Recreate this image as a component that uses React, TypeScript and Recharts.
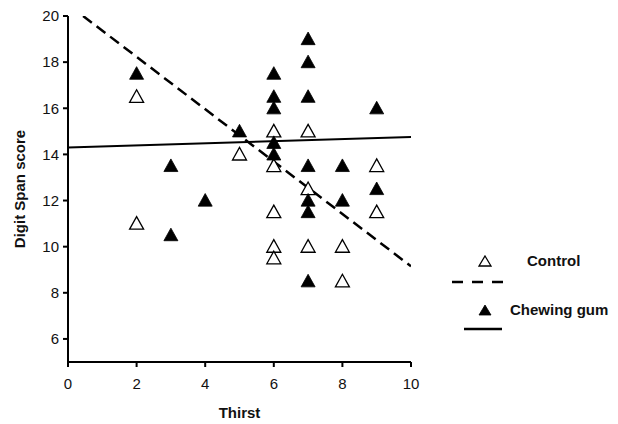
import {
  ComposedChart,
  Line,
  Scatter,
  XAxis,
  YAxis,
  Label,
} from "recharts";

interface Pt {
  x: number;
  y: number;
}

// Thirst rating vs digit span score
const controlPoints: Pt[] = [
  { x: 2, y: 16.5 }, { x: 2, y: 11 }, { x: 5, y: 14 },
  { x: 6, y: 15 }, { x: 6, y: 13.5 }, { x: 6, y: 11.5 }, { x: 6, y: 10 }, { x: 6, y: 9.5 },
  { x: 7, y: 15 }, { x: 7, y: 12.5 }, { x: 7, y: 10 },
  { x: 8, y: 10 }, { x: 8, y: 8.5 },
  { x: 9, y: 13.5 }, { x: 9, y: 11.5 },
];

const gumPoints: Pt[] = [
  { x: 2, y: 17.5 }, { x: 3, y: 13.5 }, { x: 3, y: 10.5 }, { x: 4, y: 12 }, { x: 5, y: 15 },
  { x: 6, y: 17.5 }, { x: 6, y: 16.5 }, { x: 6, y: 16 }, { x: 6, y: 14.5 }, { x: 6, y: 14 },
  { x: 7, y: 19 }, { x: 7, y: 18 }, { x: 7, y: 16.5 }, { x: 7, y: 13.5 }, { x: 7, y: 12 },
  { x: 7, y: 11.5 }, { x: 7, y: 8.5 },
  { x: 8, y: 13.5 }, { x: 8, y: 12 },
  { x: 9, y: 16 }, { x: 9, y: 12.5 },
];

// fitted regression lines (end points)
const controlFit: Pt[] = [
  { x: 0.44, y: 20 },
  { x: 10, y: 9.15 },
];
const gumFit: Pt[] = [
  { x: 0, y: 14.3 },
  { x: 10, y: 14.75 },
];

const xTicks = [0, 2, 4, 6, 8, 10];
const yTicks = [6, 8, 10, 12, 14, 16, 18, 20];

const FONT = "'Liberation Sans', Arial, sans-serif";

function Triangle(props: any) {
  const { cx, cy, filled } = props;
  if (cx == null || cy == null) return null;
  const s = 7;
  const d = `M${cx},${cy - s} L${cx + s},${cy + s * 0.8} L${cx - s},${cy + s * 0.8} Z`;
  return (
    <path
      d={d}
      fill={filled ? "#000" : "#fff"}
      stroke="#000"
      strokeWidth={filled ? 0.8 : 1.3}
    />
  );
}

function LegendTriangle({ filled }: { filled: boolean }) {
  return (
    <svg width={14} height={12} style={{ display: "block" }}>
      <path
        d="M7,1 L13,11 L1,11 Z"
        fill={filled ? "#000" : "#fff"}
        stroke="#000"
        strokeWidth={filled ? 0.8 : 1.3}
      />
    </svg>
  );
}

export default function App() {
  return (
    <div
      style={{
        position: "absolute",
        left: 0,
        top: 0,
        width: 618,
        height: 424,
        background: "#fff",
        fontFamily: FONT,
      }}
    >
      <ComposedChart
        width={618}
        height={424}
        margin={{ top: 16, right: 207, bottom: 12, left: 28 }}
      >
        <XAxis
          type="number"
          dataKey="x"
          domain={[0, 10]}
          ticks={xTicks}
          allowDataOverflow
          stroke="#000"
          strokeWidth={2}
          tickSize={5}
          tickMargin={11}
          tick={{ fill: "#111", fontSize: 15, fontFamily: FONT }}
          height={50}
        >
          <Label
            value="Thirst"
            position="insideBottom"
            offset={-6}
            style={{ fill: "#111", fontSize: 15, fontWeight: 700, fontFamily: FONT }}
          />
        </XAxis>
        <YAxis
          type="number"
          dataKey="y"
          domain={[5, 20]}
          ticks={yTicks}
          allowDataOverflow
          stroke="#000"
          strokeWidth={2}
          tickSize={5}
          tickMargin={4}
          tick={{ fill: "#111", fontSize: 15, fontFamily: FONT }}
          width={40}
        >
          <Label
            value="Digit Span score"
            angle={-90}
            position="insideLeft"
            offset={-8}
            style={{
              fill: "#111",
              fontSize: 15,
              fontWeight: 700,
              fontFamily: FONT,
              textAnchor: "middle",
            }}
          />
        </YAxis>
        <Line
          data={controlFit}
          dataKey="y"
          type="linear"
          stroke="#000"
          strokeWidth={2.5}
          strokeDasharray="11 6"
          dot={false}
          activeDot={false}
          isAnimationActive={false}
        />
        <Line
          data={gumFit}
          dataKey="y"
          type="linear"
          stroke="#000"
          strokeWidth={2}
          dot={false}
          activeDot={false}
          isAnimationActive={false}
        />
        <Scatter
          data={controlPoints}
          shape={(p: any) => <Triangle {...p} filled={false} />}
          isAnimationActive={false}
        />
        <Scatter
          data={gumPoints}
          shape={(p: any) => <Triangle {...p} filled />}
          isAnimationActive={false}
        />
      </ComposedChart>

      {/* legend */}
      <div style={{ position: "absolute", left: 478, top: 255 }}>
        <LegendTriangle filled={false} />
      </div>
      <div
        style={{
          position: "absolute",
          left: 527,
          top: 252,
          fontSize: 15,
          fontWeight: 700,
          color: "#111",
        }}
      >
        Control
      </div>
      <svg
        width={80}
        height={6}
        style={{ position: "absolute", left: 452, top: 279 }}
      >
        <line x1={0} y1={3} x2={56} y2={3} stroke="#000" strokeWidth={2.5} strokeDasharray="11 9" />
      </svg>

      <div style={{ position: "absolute", left: 478, top: 304 }}>
        <LegendTriangle filled />
      </div>
      <div
        style={{
          position: "absolute",
          left: 510,
          top: 301,
          fontSize: 15,
          fontWeight: 700,
          color: "#111",
        }}
      >
        Chewing gum
      </div>
      <svg
        width={60}
        height={6}
        style={{ position: "absolute", left: 464, top: 326 }}
      >
        <line x1={0} y1={3} x2={38} y2={3} stroke="#000" strokeWidth={2.5} />
      </svg>
    </div>
  );
}
